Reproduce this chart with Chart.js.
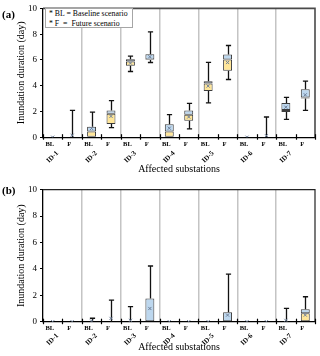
<!DOCTYPE html>
<html><head><meta charset="utf-8">
<script src="https://cdn.jsdelivr.net/npm/chart.js@4/dist/chart.umd.min.js"></script>
<style>
body{margin:0;background:#fff;width:320px;height:356px;overflow:hidden;position:relative;font-family:"Liberation Serif",serif;color:#000}
.panel{position:absolute;left:0;width:320px}
.lab{position:absolute;left:2px;font-weight:bold;font-size:11px;line-height:12px}
.leg{position:absolute;left:45px;top:8px;width:88px;height:20px;border:1px solid #a6a6a6;background:#fff;font-size:7.8px;line-height:9.5px;padding:0 0 0 3px;box-sizing:border-box;white-space:pre}
</style></head><body>
<div class="panel" style="top:0;height:175px"><canvas id="ca" width="320" height="175"></canvas></div>
<div class="panel" style="top:175px;height:181px"><canvas id="cb" width="320" height="181"></canvas></div>
<div class="lab" style="top:8px">(a)</div>
<div class="lab" style="top:184px">(b)</div>
<div class="leg"><div>* BL = Baseline scenario</div><div>* F  =  Future scenario</div></div>
<script>
const scenarios = ['BL','F','BL','F','BL','F','BL','F','BL','F','BL','F','BL','F'];
const substations = ['ID-1','ID-2','ID-3','ID-4','ID-5','ID-6','ID-7'];
const yTicks = [0, 2, 4, 6, 8, 10];

// Panel (a)
const minA  = [0, 0,    0,    0.74, 5.1,  5.8,  0,    0.64, 2.66, 4.48, 0, 0,    1.38, 2.08];
const q1A   = [0, 0,    0,    1.02, 5.55, 6.0,  0,    1.27, 3.59, 5.16, 0, 0,    1.95, 3.01];
const medA  = [0, 0,    0.45, 1.83, 5.88, 6.04, 0.45, 1.75, 4.17, 6.04, 0, 0,    2.12, 3.09];
const q3A   = [0, 0,    0.82, 2.08, 6.05, 6.44, 1.0,  2.08, 4.35, 6.42, 0, 0,    2.66, 3.72];
const maxA  = [0, 2.08, 1.95, 2.84, 6.29, 8.18, 1.75, 2.63, 5.81, 7.12, 0, 1.57, 3.09, 4.35];
const meanA = [0, 0.15, 0.68, 1.62, 5.75, 6.25, 0.7,  1.57, 3.97, 5.8,  0, 0.12, 2.33, 3.29];

// Panel (b)
const minB  = [0, 0, 0,    0,    0,    0,    0, 0, 0, 0,    0, 0, 0,    0];
const q1B   = [0, 0, 0,    0,    0,    0,    0, 0, 0, 0,    0, 0, 0,    0];
const medB  = [0, 0, 0,    0,    0,    0,    0, 0, 0, 0,    0, 0, 0,    0.64];
const q3B   = [0, 0, 0,    0,    0,    1.75, 0, 0, 0, 0.71, 0, 0, 0,    0.94];
const maxB  = [0, 0, 0.26, 1.64, 1.14, 4.22, 0, 0, 0, 3.61, 0, 0, 1.01, 1.89];
const meanB = [0, 0, 0.05, 0.25, 0.1,  1.0,  0, 0, 0, 0.5,  0, 0, 0.1,  0.5];

const FONT = '"Liberation Serif", "Times New Roman", serif';

function makeChart(id, st, cfg) {
  const rng = (lo, hi) => lo.map((v, i) => hi[i] > v ? [v, hi[i]] : null);
  const whiskers = {
    id: 'whiskers',
    beforeDatasetsDraw(chart) {
      const {ctx, scales: {x, y}} = chart;
      ctx.save();
      ctx.strokeStyle = '#111';
      ctx.lineWidth = 1.3;
      const cap = 2.6;
      st.max.forEach((mx, i) => {
        const px = Math.round(x.getPixelForValue(i)) + 0.5;
        const seg = (a, b) => {
          const ya = y.getPixelForValue(a), yb = y.getPixelForValue(b);
          ctx.beginPath(); ctx.moveTo(px, ya); ctx.lineTo(px, yb);
          ctx.moveTo(px - cap, yb); ctx.lineTo(px + cap, yb); ctx.stroke();
        };
        if (mx > st.q3[i]) seg(st.q3[i], mx);
        if (st.min[i] < st.q1[i]) seg(st.q1[i], st.min[i]);
      });
      ctx.restore();
    }
  };
  const frame = {
    id: 'frame',
    afterDraw(chart) {
      const {ctx, chartArea: a, scales: {x}} = chart;
      ctx.save();
      ctx.strokeStyle = cfg.frameColor;
      ctx.lineWidth = cfg.frameWidth;
      ctx.beginPath();
      ctx.moveTo(a.left, a.top); ctx.lineTo(a.right, a.top); ctx.lineTo(a.right, a.bottom);
      ctx.stroke();
      ctx.strokeStyle = '#000';
      ctx.lineWidth = 1.2;
      for (let k = 0; k <= scenarios.length; k++) {
        const px = Math.round(x.getPixelForValue(k - 0.5)) + 0.5;
        ctx.beginPath(); ctx.moveTo(px, a.bottom - 3); ctx.lineTo(px, a.bottom + 2.5); ctx.stroke();
      }
      ctx.restore();
    }
  };
  return new Chart(document.getElementById(id), {
    type: 'bar',
    data: {
      labels: scenarios,
      datasets: [
        {label: 'Q1-median', data: rng(st.q1, st.med), backgroundColor: '#FFE699', borderColor: '#3c3c3c', borderWidth: 1, borderSkipped: false, grouped: false, order: 2, barPercentage: 0.46, categoryPercentage: 1},
        {label: 'median-Q3', data: rng(st.med, st.q3), backgroundColor: '#BDD7EE', borderColor: '#3c3c3c', borderWidth: 1, borderSkipped: false, grouped: false, order: 2, barPercentage: 0.46, categoryPercentage: 1},
        {type: 'line', label: 'Mean', data: st.mean, showLine: false, pointStyle: 'crossRot', pointRadius: 2.2, borderColor: '#6d7f99', backgroundColor: '#6d7f99', borderWidth: 1, order: 0}
      ]
    },
    options: {
      responsive: false, animation: false, devicePixelRatio: 1,
      layout: {padding: {top: cfg.top, right: 3, left: 0, bottom: cfg.bottom}},
      plugins: {legend: {display: false}, tooltip: {enabled: false}},
      scales: {
        y: {
          min: 0, max: 10, afterFit: s => { s.width = 43; },
          afterBuildTicks: s => { s.ticks = yTicks.map(v => ({value: v})); },
          ticks: {color: '#000', font: {family: FONT, size: 9}, padding: 3},
          grid: {drawOnChartArea: false, tickLength: 3, tickColor: '#000', tickWidth: 1.2},
          border: {color: '#000', width: 1.3},
          title: {display: true, text: 'Inundation duration (day)', color: '#000', font: {family: FONT, size: 10}, padding: {top: 15, bottom: 0}}
        },
        x: {
          weight: 0, offset: true,
          afterFit: s => { s.height = 10; },
          ticks: {color: '#000', font: {family: FONT, size: 6.5, weight: 'bold'}, padding: cfg.xpad, autoSkip: false, maxRotation: 0, labelOffset: -3},
          grid: {offset: true, drawTicks: false, lineWidth: 1.5,
                 color: c => (c.index !== undefined && c.index > 0 && c.index % 2 === 0) ? '#c4c4c4' : 'rgba(0,0,0,0)'},
          border: {color: '#000', width: 1.3}
        },
        x2: {
          type: 'category', position: 'bottom', weight: 1, offset: true, labels: substations,
          afterFit: s => { s.height = cfg.x2h; },
          ticks: {color: '#000', font: {family: FONT, size: 7, weight: 'bold'}, padding: cfg.x2pad, autoSkip: false, minRotation: 45, maxRotation: 45, labelOffset: -5},
          grid: {display: false, drawTicks: false},
          border: {display: false},
          title: {display: true, text: 'Affected substations', color: '#000', font: {family: FONT, size: 10}, padding: {top: 0, bottom: 0}}
        }
      }
    },
    plugins: [whiskers, frame]
  });
}

makeChart('ca', {min: minA, q1: q1A, med: medA, q3: q3A, max: maxA, mean: meanA},
  {top: 5, bottom: 0, x2h: 27.8, x2pad: 2, xpad: 3, frameColor: '#4a4a4a', frameWidth: 1.6});
makeChart('cb', {min: minB, q1: q1B, med: medB, q3: q3B, max: maxB, mean: meanB},
  {top: 14.7, bottom: 3, x2h: 21.3, x2pad: 0, xpad: 3, frameColor: '#222', frameWidth: 1.2});
</script>
</body></html>
